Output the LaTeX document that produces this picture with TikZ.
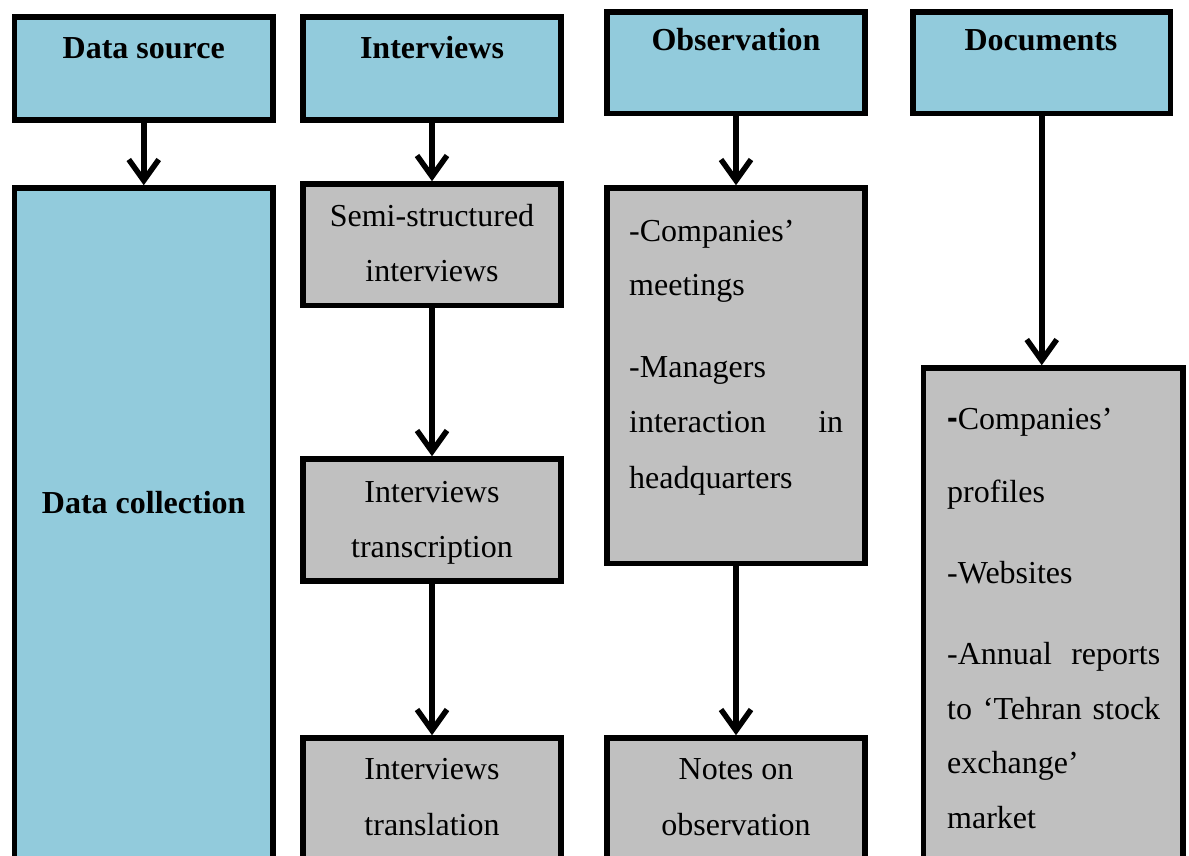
\documentclass[tikz,border=0pt]{standalone}
\usepackage{fontspec}
\setmainfont{Liberation Serif}
\newfontfamily\dashfont{Liberation Sans}
\usetikzlibrary{arrows.meta}

\definecolor{headblue}{RGB}{146,203,220}
\definecolor{stepgray}{RGB}{192,192,192}

\tikzset{
  box/.style={draw=black, line width=5.5pt, rectangle, inner sep=0pt},
  headbox/.style={box, fill=headblue},
  graybox/.style={box, fill=stepgray},
  flow/.style={line width=5.5pt, -{Straight Barb[length=21pt,width=30pt]}},
  label/.style={font=\fontsize{32}{38}\selectfont, inner sep=0pt, anchor=base},
  leftlabel/.style={label, anchor=base west},
  headlabel/.style={label, font=\fontsize{32}{38}\selectfont\bfseries},
}

% place a box from its two corners (x1,y1) (x2,y2), measured downwards
\newcommand{\boxat}[6]{%
  \node[#1, minimum width=#4pt-#2pt, minimum height=#5pt-#3pt]
    (#6) at ({(#2+#4)/2},{(#3+#5)/2}) {};}

\begin{document}
\begin{tikzpicture}[x=1pt, y=-1pt]
  \useasboundingbox (0,0) rectangle (1189,856);
  \clip (0,0) rectangle (1189,856);

  % header row
  \boxat{headbox}{14.5}{17}{273}{120}{ds}
  \boxat{headbox}{303}{17}{561}{120}{iv}
  \boxat{headbox}{607}{12}{865}{113.5}{ob}
  \boxat{headbox}{913}{12}{1170.5}{113.5}{doc}

  % data collection column
  \boxat{headbox}{14.5}{188}{273}{920}{dc}

  % interviews column
  \boxat{graybox}{303}{184}{561}{305.5}{semi}
  \boxat{graybox}{303}{459}{561}{581}{trans}
  \boxat{graybox}{303}{738}{561}{920}{transl}

  % observation column
  \boxat{graybox}{607}{188}{865}{563.5}{obg}
  \boxat{graybox}{607}{738}{865}{920}{notes}

  % documents column
  \boxat{graybox}{923.5}{368}{1183}{920}{docg}

  % headings
  \node[headlabel] (dsT) at (143.7,59) {Data source};
  \node[headlabel] (ivT) at (432,59) {Interviews};
  \node[headlabel] (obT) at (736,51) {Observation};
  \node[headlabel] (docT) at (1041,51) {Documents};
  \node[headlabel] (dcT) at (143.7,513) {Data collection};

  % interview steps
  \node[label] (semiA) at (432,226) {Semi-structured};
  \node[label] (semiB) at (432,281) {interviews};
  \node[label] (transA) at (432,502) {Interviews};
  \node[label] (transB) at (432,557) {transcription};
  \node[label] (translA) at (432,779) {Interviews};
  \node[label] (translB) at (432,835) {translation};

  % observation items
  \node[leftlabel] (obA) at (629,241) {-Companies’};
  \node[leftlabel] (obB) at (629,295) {meetings};
  \node[leftlabel] (obC) at (629,377) {-Managers};
  \node[leftlabel] (obD) at (629,432) {\makebox[214pt][l]{interaction\hfill in}};
  \node[leftlabel] (obE) at (629,488) {headquarters};
  \node[label] (notesA) at (736,779) {Notes on};
  \node[label] (notesB) at (736,835) {observation};

  % document items
  \node[leftlabel] (docA) at (947,429) {{\dashfont\bfseries\raisebox{1pt}{-}}Companies’};
  \node[leftlabel] (docB) at (947,502) {profiles};
  \node[leftlabel] (docC) at (947,583) {-Websites};
  \node[leftlabel] (docD) at (947,664) {\makebox[213pt][l]{-Annual\hfill reports}};
  \node[leftlabel] (docE) at (947,719) {\makebox[213pt][s]{to ‘Tehran stock}};
  \node[leftlabel] (docF) at (947,773) {exchange’};
  \node[leftlabel] (docG) at (947,828) {market};

  % connectors
  \draw[flow] (ds.south) -- (ds.south |- dc.north);
  \draw[flow] (iv.south) -- (iv.south |- semi.north);
  \draw[flow] (ob.south) -- (ob.south |- obg.north);
  \draw[flow] (doc.south) -- (doc.south |- docg.north);
  \draw[flow] (semi.south) -- (semi.south |- trans.north);
  \draw[flow] (trans.south) -- (trans.south |- transl.north);
  \draw[flow] (obg.south) -- (obg.south |- notes.north);
\end{tikzpicture}
\end{document}
